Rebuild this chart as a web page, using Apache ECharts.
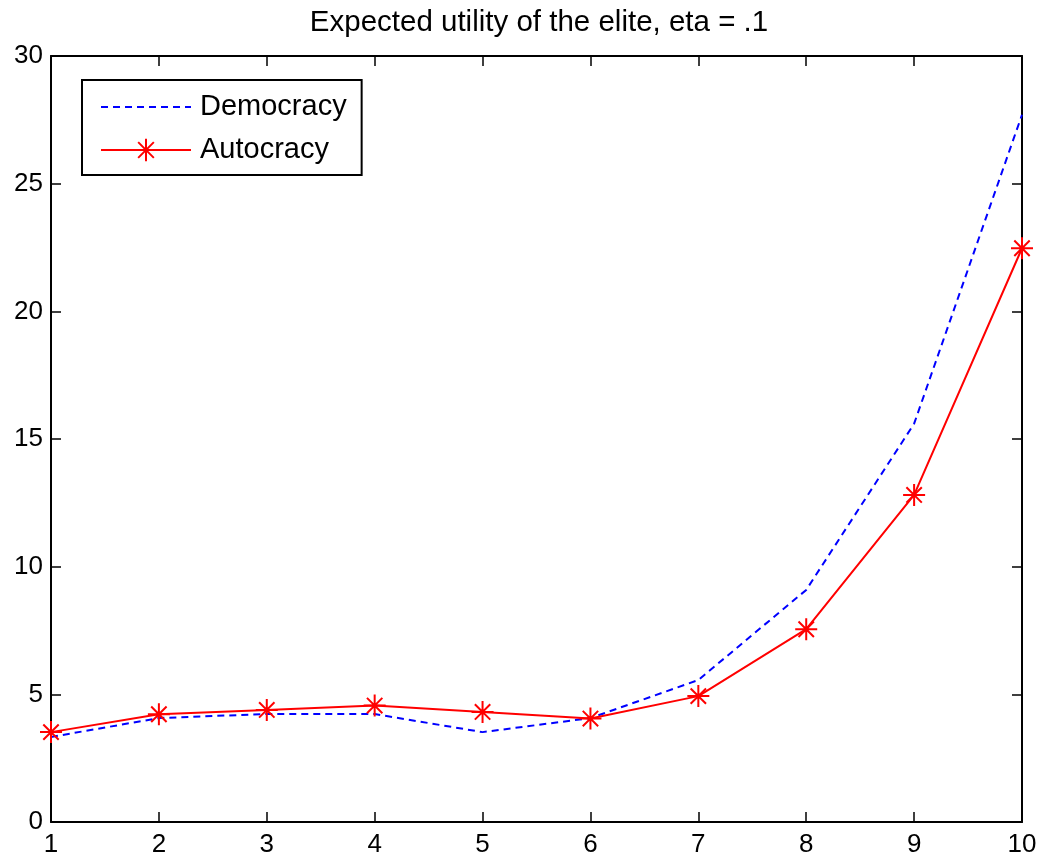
<!DOCTYPE html>
<html>
<head>
<meta charset="utf-8">
<script src="https://cdn.jsdelivr.net/npm/echarts@6/dist/echarts.min.js"></script>
<style>
html,body{margin:0;padding:0;background:#fff;}
#chart{width:1046px;height:865px;}
</style>
</head>
<body>
<div id="chart"></div>
<script>
var xValues = [1, 2, 3, 4, 5, 6, 7, 8, 9, 10];
var democracy = [3.33, 4.07, 4.23, 4.23, 3.52, 4.07, 5.56, 9.09, 15.6, 27.7];
var autocracy = [3.52, 4.22, 4.39, 4.56, 4.31, 4.05, 4.93, 7.55, 12.81, 22.47];
var titleText = 'Expected utility of the elite, eta = .1';
var seriesNames = ['Democracy', 'Autocracy'];

var FONT = 'Liberation Sans, Arial, sans-serif';
var asterisk = 'path://M0,-10L0,10M-10,0L10,0M-7,-7L7,7M-7,7L7,-7';

function pairs(xs, ys) { return xs.map(function (x, i) { return [x, ys[i]]; }); }

var axisLine = { show: true, onZero: false, lineStyle: { color: '#000', width: 2 } };
var axisTick = { show: true, inside: true, length: 10, lineStyle: { color: '#000', width: 1.5 } };

var chart = echarts.init(document.getElementById('chart'), null, { renderer: 'canvas' });
chart.setOption({
  backgroundColor: '#fff',
  animation: false,
  title: {
    text: titleText,
    left: 534, top: 3, textAlign: 'center',
    textStyle: { fontFamily: FONT, fontSize: 29.5, fontWeight: 'normal', color: '#000' }
  },
  grid: { left: 51, right: 24, top: 56, bottom: 43, containLabel: false },
  legend: {
    orient: 'vertical',
    left: 82, top: 80,
    padding: [12, 15, 10, 18],
    itemWidth: 90, itemHeight: 28, itemGap: 13,
    borderColor: '#000', borderWidth: 2, backgroundColor: '#fff',
    textStyle: { fontFamily: FONT, fontSize: 29, color: '#000', lineHeight: 30, padding: [0, 0, 0, 4] },
    data: [
      { name: seriesNames[0], itemStyle: { color: 'transparent', borderWidth: 0, opacity: 0 } },
      { name: seriesNames[1] }
    ]
  },
  xAxis: [
    { type: 'value', position: 'bottom', min: 1, max: 10, interval: 1,
      axisLine: axisLine, axisTick: axisTick, splitLine: { show: false },
      axisLabel: { fontFamily: FONT, fontSize: 26, color: '#000', margin: 10 } },
    { type: 'value', position: 'top', min: 1, max: 10, interval: 1,
      axisLine: axisLine, axisTick: axisTick, splitLine: { show: false },
      axisLabel: { show: false } }
  ],
  yAxis: [
    { type: 'value', position: 'left', min: 0, max: 30, interval: 5,
      axisLine: axisLine, axisTick: axisTick, splitLine: { show: false },
      axisLabel: { fontFamily: FONT, fontSize: 26, color: '#000', margin: 8 } },
    { type: 'value', position: 'right', min: 0, max: 30, interval: 5,
      axisLine: axisLine, axisTick: axisTick, splitLine: { show: false },
      axisLabel: { show: false } }
  ],
  series: [
    { name: seriesNames[0], type: 'line', data: pairs(xValues, democracy),
      showSymbol: false, symbol: 'none', color: '#0000ff',
      lineStyle: { color: '#0000ff', width: 2, type: [7, 5] } },
    { name: seriesNames[1], type: 'line', data: pairs(xValues, autocracy),
      symbol: asterisk, symbolSize: 22, color: '#ff0000',
      itemStyle: { color: 'transparent', borderColor: '#ff0000', borderWidth: 2 },
      lineStyle: { color: '#ff0000', width: 2 } }
  ]
});
</script>
</body>
</html>
